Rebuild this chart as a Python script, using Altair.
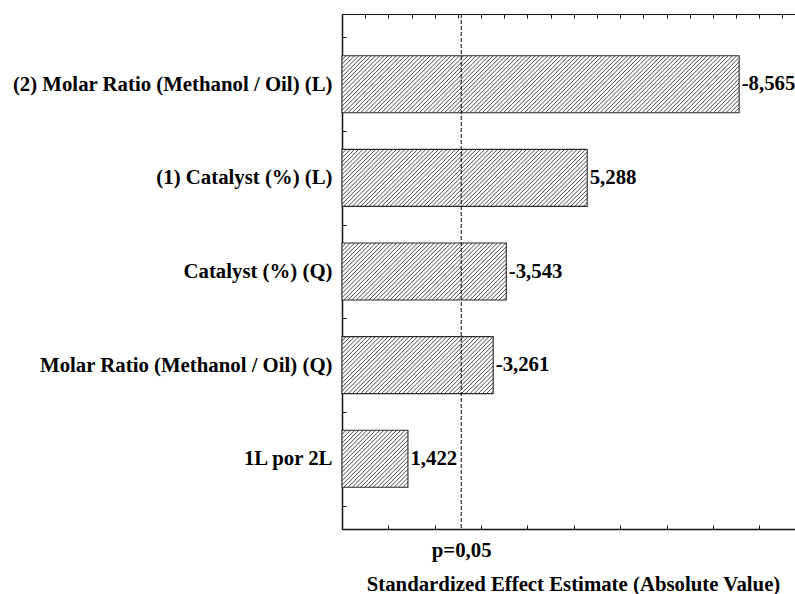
import json

import altair as alt
import pandas as pd

# Pareto chart of standardized effects
terms = [
    "(2) Molar Ratio (Methanol / Oil) (L)",
    "(1) Catalyst (%) (L)",
    "Catalyst (%) (Q)",
    "Molar Ratio (Methanol / Oil) (Q)",
    "1L por 2L",
]
effects = [-8.565, 5.288, -3.543, -3.261, 1.422]
t_crit = 2.571
p_label = "p=0,05"
x_title = "Standardized Effect Estimate (Absolute Value)"

W, H = 453, 515
X_MAX = 9.77
Y_DOMAIN = [0.25, 5.75]
BAR_PX = 57
FONT = "Liberation Serif"
FS = 20.8

# hatch geometry (pixels)
PPU = W / X_MAX                          # px per x unit
PPY = H / (Y_DOMAIN[1] - Y_DOMAIN[0])    # px per y unit
HALF = BAR_PX / 2 / PPY                  # half bar thickness in y units
PERIOD = 4.2

df = pd.DataFrame({"term": terms, "effect": effects, "rank": list(range(1, len(terms) + 1))})

x_scale = alt.Scale(domain=[0, X_MAX], nice=False, zero=True, padding=0)
y_scale = alt.Scale(domain=Y_DOMAIN, reverse=True, nice=False, zero=False, padding=0)

base = alt.Chart(df).transform_calculate(
    absval="abs(datum.effect)",
    label="(datum.effect < 0 ? '-' : '') + replace(format(abs(datum.effect), '.3f'), '.', ',')",
)

bottom_axis = alt.Axis(
    orient="bottom", values=[t_crit], labelExpr=f"'{p_label}'",
    ticks=False, tickSize=0, labelPadding=11.5, domain=True, domainWidth=1.5,
    grid=False, title=x_title, titleX=231, titleY=61.5,
    titleBaseline="alphabetic", titleAlign="center",
)
left_axis = alt.Axis(
    orient="left", values=list(range(1, len(terms) + 1)),
    labelExpr=f"{json.dumps(terms)}[round(datum.value) - 1]",
    ticks=False, tickSize=0, labelPadding=10, labelLimit=400,
    domain=True, domainWidth=1.5, grid=False, title=None,
)
# inward ticks along the bottom edge
ticks_bottom = alt.Axis(
    orient="top", offset=-H, values=list(range(0, 10)), tickSize=4,
    labels=False, domain=False, grid=False, title=None,
)
# inward ticks along the top edge, plus the top border
ticks_top = alt.Axis(
    orient="bottom", offset=-H, values=[i * 0.5 for i in range(20)], tickSize=4,
    labels=False, domain=True, domainWidth=1.2, grid=False, title=None,
)
# inward ticks along the left edge
ticks_left = alt.Axis(
    orient="right", offset=-W, values=[0.5 * i for i in range(1, 12)], tickSize=4,
    labels=False, domain=False, grid=False, title=None,
)

bar_fill = base.mark_bar(
    orient="horizontal", size=BAR_PX, fill="white", strokeWidth=0,
).encode(
    x=alt.X("absval:Q", scale=x_scale, axis=bottom_axis),
    y=alt.Y("rank:Q", scale=y_scale, axis=left_axis),
)

# diagonal '/' hatch lines clipped to each bar's rectangle
hatch = base.transform_calculate(
    wpx=f"datum.absval * {PPU}",
).transform_calculate(
    ks=f"sequence(1, ceil((datum.wpx + {BAR_PX}) / {PERIOD}))",
).transform_flatten(["ks"]).transform_calculate(
    c=f"datum.ks * {PERIOD}",
).transform_filter(
    f"datum.c < datum.wpx + {BAR_PX}"
).transform_calculate(
    xa=f"max(0, datum.c - {BAR_PX})",
    xb="min(datum.c, datum.wpx)",
).transform_calculate(
    hx=f"datum.xa / {PPU}",
    hx2=f"datum.xb / {PPU}",
    hy=f"datum.rank - {HALF} + (datum.c - datum.xa) / {PPY}",
    hy2=f"datum.rank - {HALF} + (datum.c - datum.xb) / {PPY}",
).mark_rule(color="#4a4a4a", strokeWidth=1).encode(
    x=alt.X("hx:Q", scale=x_scale, axis=None),
    x2="hx2:Q",
    y=alt.Y("hy:Q", scale=y_scale, axis=None),
    y2="hy2:Q",
)

bar_outline = base.mark_bar(
    orient="horizontal", size=BAR_PX, fillOpacity=0,
    stroke="#2a2a2a", strokeWidth=1.1,
).encode(
    x=alt.X("absval:Q", scale=x_scale, axis=None),
    y=alt.Y("rank:Q", scale=y_scale, axis=None),
)

rule = alt.Chart(pd.DataFrame({"t": [t_crit]})).mark_rule(
    color="black", strokeWidth=1, strokeDash=[4, 2]
).encode(x=alt.X("t:Q", scale=x_scale, axis=ticks_bottom))

labels = base.mark_text(
    align="left", baseline="middle", dx=2.5,
    font=FONT, fontWeight="bold", fontSize=FS, color="black",
).encode(
    x=alt.X("absval:Q", scale=x_scale, axis=ticks_top),
    y=alt.Y("rank:Q", scale=y_scale, axis=ticks_left),
    text="label:N",
)

chart = (
    alt.layer(bar_fill, hatch, bar_outline, rule, labels)
    .resolve_axis(x="independent", y="independent")
    .properties(
        width=W, height=H,
        autosize=alt.AutoSizeParams(type="none"),
        padding={"left": 342, "top": 14, "right": 0, "bottom": 65},
        background="white",
    )
    .configure_axis(
        labelFont=FONT, labelFontWeight="bold", labelFontSize=FS, labelColor="black",
        titleFont=FONT, titleFontWeight="bold", titleFontSize=FS, titleColor="black",
        domainColor="#111111", tickColor="#111111", tickWidth=1,
    )
    .configure_view(stroke=None)
)

chart.save("out.html", embed_options={"renderer": "svg", "actions": False})
